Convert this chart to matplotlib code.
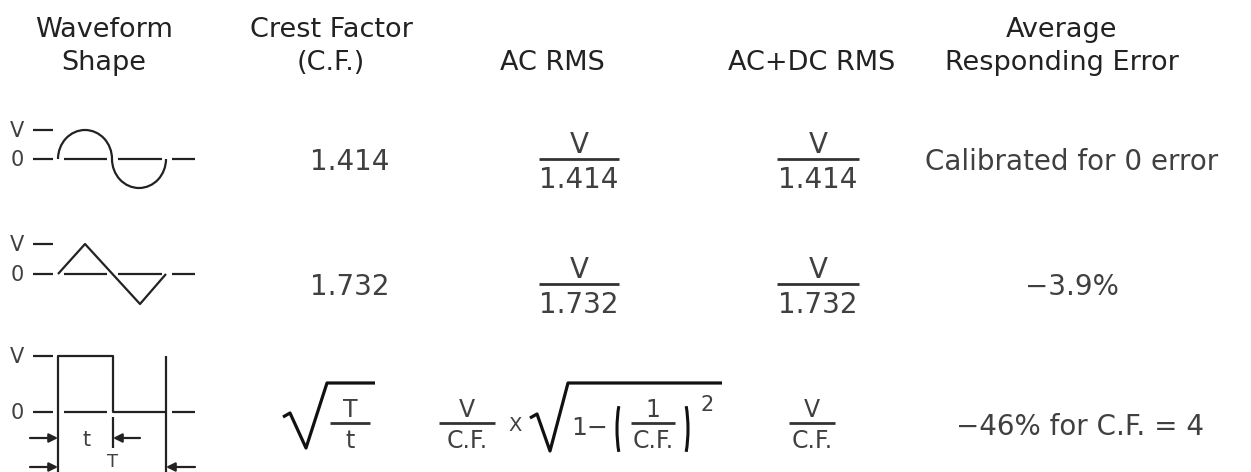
import matplotlib.pyplot as plt
from matplotlib.patches import Arc

# ---------- table content ----------
header_top = ["Waveform", "Crest Factor", "", "", "Average"]
header_bottom = ["Shape", "(C.F.)", "AC RMS", "AC+DC RMS", "Responding Error"]

crest_factor = ["1.414", "1.732"]          # sine, triangle
ac_rms_den = ["1.414", "1.732"]            # V / x
acdc_rms_den = ["1.414", "1.732"]          # V / x
avg_error = ["Calibrated for 0 error", "\u22123.9%", "\u221246% for C.F. = 4"]

# ---------- layout (pixel space) ----------
W, H = 1251, 472
header_x = [104, 331, 552, 812, 1062]
col_cf, col_ac, col_acdc, col_err = 350, 579, 818, 1072
icon_y = [159, 274, 412]                   # zero line of each waveform icon
text_y = [159, 284, 423]                   # fraction bar / text centre of each row
amp = [29, 30, 56]                         # icon height per row

INK = '#222222'
GREY = '#404040'
FONT = 'DejaVu Sans'

fig = plt.figure(figsize=(W / 100, H / 100), dpi=100)
ax = fig.add_axes([0, 0, 1, 1])
ax.set_xlim(0, W)
ax.set_ylim(H, 0)
ax.axis('off')


def txt(x, y, s, size=20, color=GREY, ha='center', va='baseline'):
    ax.text(x, y, s, fontsize=size, color=color, ha=ha, va=va, family=FONT)


def line(xs, ys, lw=1.6, color=INK):
    ax.plot(xs, ys, color=color, lw=lw, solid_capstyle='butt')


def frac(x, y, num, den, half, size=20):
    txt(x, y - 6, num, size)
    line([x - half, x + half], [y, y], lw=2.0, color='#333333')
    txt(x, y + 29 * size / 20, den, size)


def radical(pts, lw=2.3):
    line([p[0] for p in pts], [p[1] for p in pts], lw=lw, color='#111111')


# ---------- headers ----------
for x, top, bot in zip(header_x, header_top, header_bottom):
    txt(x, 37, top, 19.5, INK)
    txt(x, 70, bot, 19.5, INK)

# ---------- waveform icons ----------
dash_sets = [[(33, 53), (64, 107), (118, 162), (172, 195)],
             [(33, 53), (64, 107), (118, 162), (172, 195)],
             [(33, 53), (64, 107), (172, 195)]]
for y0, a, dashes in zip(icon_y, amp, dash_sets):
    txt(17, y0 - a + 7, "V", 15)
    txt(17, y0 + 7, "0", 15)
    line([33, 53], [y0 - a, y0 - a])
    for d0, d1 in dashes:
        line([d0, d1], [y0, y0])

# sine
y0, a = icon_y[0], amp[0]
ax.add_patch(Arc((85, y0), 54, 2 * a, theta1=180, theta2=360, color=INK, lw=1.6))
ax.add_patch(Arc((139, y0), 54, 2 * a, theta1=0, theta2=180, color=INK, lw=1.6))

# triangle
y0, a = icon_y[1], amp[1]
line([58, 85, 140, 166], [y0, y0 - a, y0 + a, y0])

# square with t / T dimensions
y0, a = icon_y[2], amp[2]
line([58, 58, 113, 113, 166, 166], [H, y0 - a, y0 - a, y0, y0, y0 - a])
line([166, 166], [y0, H])
line([113, 113], [y0 + 5, y0 + 36])
arrow = dict(arrowstyle='-|>', color=INK, lw=1.6, mutation_scale=13, shrinkA=0, shrinkB=0)
for (xa, xb, yy) in [(30, 58, 438), (140, 113, 438), (30, 58, 467), (195, 166, 467)]:
    ax.annotate('', xy=(xb, yy), xytext=(xa, yy), arrowprops=arrow)
txt(87, 446, "t", 15)
txt(113, 471, "T", 13, va='bottom')

# ---------- sine / triangle rows ----------
for i in range(2):
    y = text_y[i]
    txt(col_cf, y + 11, crest_factor[i])
    frac(col_ac, y, "V", ac_rms_den[i], 40)
    frac(col_acdc, y, "V", acdc_rms_den[i], 41)
    txt(col_err, y + 11, avg_error[i])

# ---------- square row ----------
y = text_y[2]
radical([(283, 417), (290, 413), (306, 448), (327, 383), (375, 383)])
frac(350, y, "T", "t", 20, 17)

frac(467, y, "V", "C.F.", 28, 17)
txt(515, y + 8, "X", 14)
radical([(530, 418), (537, 414), (550, 451), (568, 383), (722, 383)])
txt(571, y + 12, "1\u2212", 18, ha='left')
ax.add_patch(Arc((632, y + 6), 30, 96, theta1=120, theta2=240, color='#111111', lw=2.2))
frac(653, y, "1", "C.F.", 22, 17)
ax.add_patch(Arc((673, y + 6), 30, 96, theta1=-60, theta2=60, color='#111111', lw=2.2))
txt(707, y - 12, "2", 15)

frac(812, y, "V", "C.F.", 23, 17)
txt(col_err + 8, y + 12, avg_error[2])

fig.savefig('out.png', dpi=100, facecolor='white')
